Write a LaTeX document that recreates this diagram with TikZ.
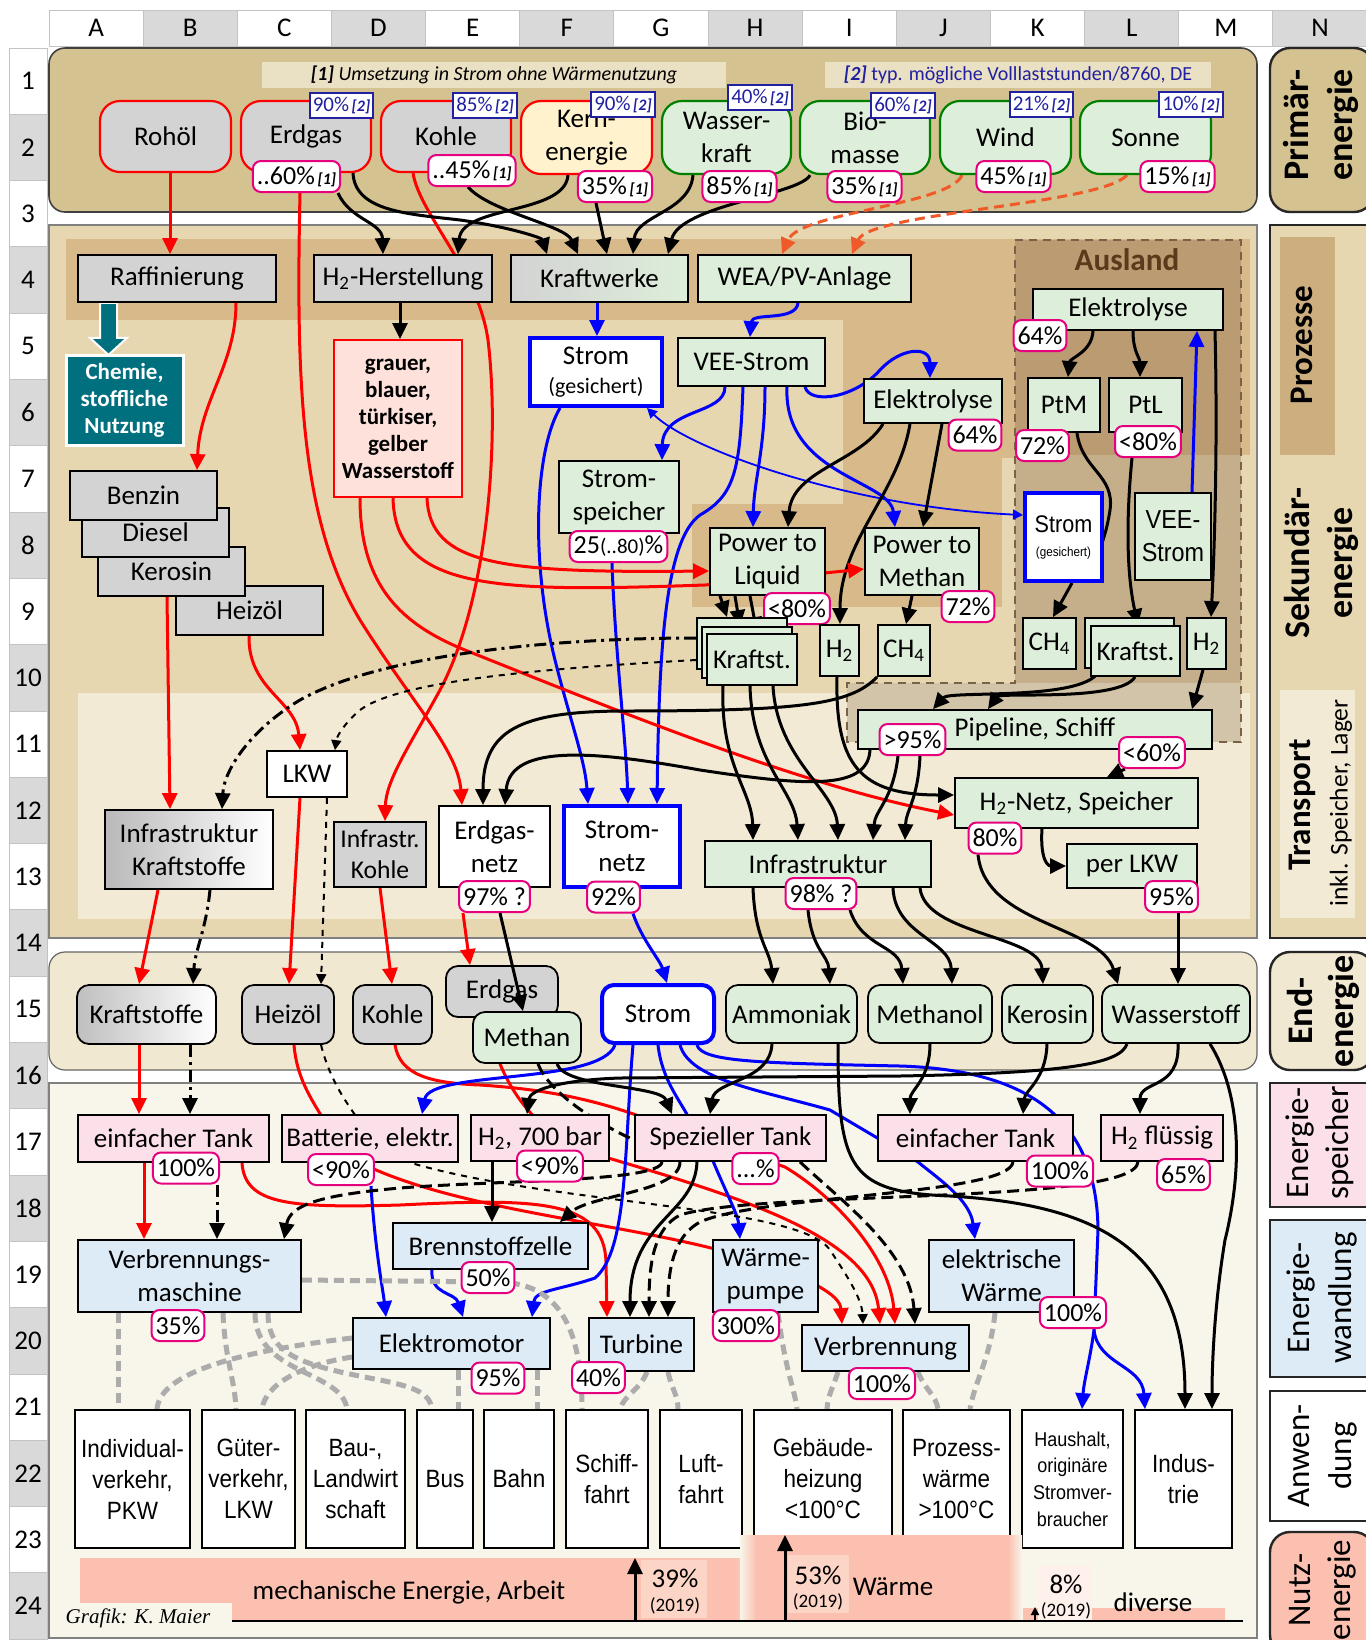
\documentclass[tikz,border=0pt]{standalone}
\usepackage{fontspec}
\setmainfont{Carlito}
\newfontfamily\narrowfont{Liberation Sans}[FakeStretch=0.9]
\newfontfamily\grafikfont{Liberation Serif}
\usetikzlibrary{arrows.meta}

\definecolor{hdr}{RGB}{217,217,217}
\definecolor{hline}{RGB}{195,195,195}
\definecolor{tanA}{RGB}{213,194,145}
\definecolor{tanB}{RGB}{230,215,177}
\definecolor{tanC}{RGB}{215,185,138}
\definecolor{ausA}{RGB}{186,155,114}
\definecolor{ausB}{RGB}{197,175,138}
\definecolor{ausC}{RGB}{209,196,168}
\definecolor{trans}{RGB}{242,234,212}
\definecolor{endp}{RGB}{241,232,210}
\definecolor{lowp}{RGB}{248,245,234}
\definecolor{procl}{RGB}{205,175,127}
\definecolor{note1}{RGB}{234,224,196}
\definecolor{nodegray}{RGB}{211,211,211}
\definecolor{nodegreen}{RGB}{221,238,218}
\definecolor{nodeyellow}{RGB}{255,242,204}
\definecolor{nodepink}{RGB}{251,224,234}
\definecolor{nodeblue}{RGB}{221,235,247}
\definecolor{nodered}{RGB}{253,225,218}
\definecolor{salmon}{RGB}{251,192,175}
\definecolor{salmonl}{RGB}{252,213,199}
\definecolor{tealc}{RGB}{0,112,127}
\definecolor{badgec}{RGB}{230,0,126}
\definecolor{navy}{RGB}{32,32,160}
\definecolor{orng}{RGB}{240,90,40}
\definecolor{grn}{RGB}{0,128,0}
\definecolor{ausl}{RGB}{90,58,26}

\pgfdeclarelayer{bg}
\pgfdeclarelayer{lines}
\pgfsetlayers{bg,lines,main}

\newcommand{\fsz}[2]{\fontsize{#1}{#2}\selectfont}
\newcommand{\qa}{{\fsz{8}{9}\bfseries\itshape\,[1]}}
\newcommand{\qb}{{\fsz{8}{9}\bfseries\itshape\,[2]}}
\newcommand{\Hz}{H\textsubscript{2}}
\newcommand{\CHv}{CH\textsubscript{4}}

\tikzset{
  wh/.style 2 args={minimum width=#1*0.5pt, minimum height=#2*0.5pt},
  box/.style={draw=black, line width=0.9pt, inner sep=1pt, align=center, font=\fsz{13.5}{16.5}},
  prim/.style={box, rounded corners=10pt, line width=1.1pt},
  fossil/.style={prim, draw=red, fill=nodegray},
  renew/.style={prim, draw=grn, fill=nodegreen},
  gbox/.style={box, fill=nodegray},
  ebox/.style={box, fill=nodegreen},
  sbox/.style={box, draw=blue, line width=2pt, fill=white},
  pbox/.style={box, fill=nodepink},
  wbox/.style={box, fill=nodeblue},
  abox/.style={box, fill=white, font=\narrowfont\fsz{12.5}{15.5}},
  fin/.style={box, rounded corners=6pt},
  badge/.style={draw=badgec, line width=1pt, fill=white, rounded corners=4pt, inner xsep=2pt, inner ysep=0.5pt, minimum height=15.5pt, font=\fsz{13}{14}},
  vbadge/.style={draw=navy, line width=1pt, fill=white, inner xsep=1.5pt, inner ysep=0.5pt, minimum height=12.5pt, text=navy, font=\fsz{10.5}{12}},
  lbl/.style={rotate=90, font=\fsz{18}{20}\bfseries},
  lblr/.style={rotate=90, font=\fsz{16.5}{20}},
  arw/.style={-{Triangle[length=8pt,width=7.5pt]}},
  ln/.style={line width=1.5pt},
  rd/.style={ln, red, arw},
  bk/.style={ln, black, arw},
  bl/.style={ln, blue, arw},
  dashdot/.style={dash pattern=on 6pt off 2.5pt on 1.5pt off 2.5pt},
  dsh/.style={dash pattern=on 6pt off 3pt},
  thindash/.style={line width=1pt, dash pattern=on 3pt off 3pt, -{Triangle[length=5pt,width=5pt]}},
  gd/.style={line width=2.5pt, draw=gray!65, dash pattern=on 5pt off 3pt},
}

\begin{document}
\begin{tikzpicture}[x=0.5pt,y=-0.5pt]
\useasboundingbox (0,0) rectangle (1366,1640);

\begin{pgfonlayer}{bg}
\fill[white] (0,0) rectangle (1366,1640);

% sheet headers
\foreach \i/\l in {0/A,1/B,2/C,3/D,4/E,5/F,6/G,7/H,8/I,9/J,10/K,11/L,12/M,13/N}{
  \pgfmathsetmacro\xa{49+94.15*\i}
  \ifodd\i \def\cc{hdr}\else\def\cc{white}\fi
  \draw[fill=\cc, draw=hline, line width=0.5pt] (\xa,10) rectangle ++(94.15,36);
  \node[font=\fsz{13.5}{16}] (col\l) at ({\xa+47.1},28) {\l};
}
\foreach \r in {1,...,24}{
  \pgfmathsetmacro\ya{48+66.3*(\r-1)}
  \ifodd\r \def\cc{white}\else\def\cc{hdr}\fi
  \draw[fill=\cc, draw=hline, line width=0.5pt] (9,\ya) rectangle ++(38,66.3);
  \node[font=\fsz{13.5}{16}] (row\r) at (28,{\ya+33.15}) {\r};
}

% panels
\draw[fill=tanA, draw=black!75, line width=0.8pt, rounded corners=8pt] (49,48) rectangle (1257,212);
\draw[fill=tanB, draw=gray, line width=0.6pt] (49,225) rectangle (1257,938);
\fill[tanC] (66,239) rectangle (1250,320);
\fill[tanC] (1241,320) rectangle (1250,455);
\fill[tanC] (843,320) rectangle (1015,458);
\fill[tanC] (843,458) rectangle (1002,504);
\fill[tanC] (692,504) rectangle (1002,607);
\fill[trans] (78,693) rectangle (1250,919);
\fill[ausA] (1015,240) rectangle (1241,455);
\fill[ausB] (1015,455) rectangle (1241,683);
\fill[ausC] (847,683) rectangle (1241,742);
\draw[draw=ausl!80, line width=1pt, dash pattern=on 4pt off 3pt] (1015,240) -- (1241,240) -- (1241,742) -- (847,742) -- (847,683) -- (1015,683) -- cycle;
\draw[fill=endp, draw=black!60, line width=0.6pt, rounded corners=8pt] (49,952) rectangle (1257,1070);
\draw[fill=lowp, draw=gray, line width=0.6pt] (49,1083) rectangle (1257,1638);

% side labels
\draw[fill=tanA, draw=black!85, line width=1.2pt, rounded corners=10pt] (1270,48) rectangle (1374,212);
\draw[fill=tanB, draw=black!85, line width=1.2pt] (1270,225) rectangle (1374,938);
\fill[procl] (1280,237) rectangle (1335,455);
\fill[trans] (1280,690) rectangle (1355,918);
\draw[fill=endp, draw=black!85, line width=1.2pt, rounded corners=10pt] (1270,952) rectangle (1374,1070);
\draw[fill=nodepink, draw=black!85, line width=1.2pt] (1270,1083) rectangle (1374,1207);
\draw[fill=nodeblue, draw=black!85, line width=1.2pt] (1270,1220) rectangle (1374,1377);
\draw[fill=white, draw=black!85, line width=1.2pt] (1270,1391) rectangle (1374,1521);
\draw[fill=salmon, draw=black!85, line width=1.2pt, rounded corners=10pt] (1270,1532) rectangle (1374,1655);
\end{pgfonlayer}

\node[lbl] (lprim1) at (1296,125) {Primär-};
\node[lbl] (lprim2) at (1343,125) {energie};
\node[lbl, font=\fsz{16.5}{20}\bfseries] (lproz) at (1302,345) {Prozesse};
\node[lbl] (lsek1) at (1297,563) {Sekundär-};
\node[lbl] (lsek2) at (1343,563) {energie};
\node[lbl, font=\fsz{16.5}{20}\bfseries] (ltrans1) at (1302,805) {Transport};
\node[rotate=90, font=\fsz{12.8}{15}] (ltrans2) at (1341,803) {inkl. Speicher, Lager};
\node[lbl] (lend1) at (1300,1011) {End-};
\node[lbl] (lend2) at (1344,1011) {energie};
\node[lblr] (lsp1) at (1300,1143) {Energie-};
\node[lblr] (lsp2) at (1340,1143) {speicher};
\node[lblr] (lwa1) at (1301,1298) {Energie-};
\node[lblr] (lwa2) at (1343,1298) {wandlung};
\node[lblr] (lan1) at (1299,1456) {Anwen-};
\node[lblr] (lan2) at (1343,1456) {dung};
\node[lblr] (lnu1) at (1300,1590) {Nutz-};
\node[lblr] (lnu2) at (1342,1590) {energie};

% primary energy
\node[fill=note1, wh={464}{26}, inner sep=0pt, font=\fsz{10}{12}] (note1) at (494,75) {\textbf{\textit{[1]}} \textit{Umsetzung in Strom ohne Wärmenutzung}};
\node[fill=note1, wh={386}{26}, inner sep=0pt, text=navy, font=\fsz{10}{12}] (note2) at (1018,75) {\textbf{\textit{[2]}} typ. mögliche Volllaststunden/8760, DE};

\node[fossil, wh={131}{71}] (rohoel) at (165.5,136.5) {Rohöl};
\node[fossil, wh={130}{71}] (erdgas) at (306,136.5) {Erdgas};
\node[fossil, wh={130}{71}] (kohle) at (446,136.5) {Kohle};
\node[prim, draw=red, fill=nodeyellow, wh={131}{73}] (kern) at (586.5,137.5) {Kern-\\energie};
\node[renew, wh={129}{73}] (wasser) at (726.5,137.5) {Wasser-\\kraft};
\node[renew, wh={130}{73}] (bio) at (865,137.5) {Bio-\\masse};
\node[renew, wh={131}{73}] (wind) at (1005.5,137.5) {Wind};
\node[renew, wh={131}{73}] (sonne) at (1145.5,137.5) {Sonne};

\node[vbadge] (verdgas) at (341.5,105) {90\%\qb};
\node[vbadge] (vkohle) at (485,105) {85\%\qb};
\node[vbadge] (vkern) at (623,104.5) {90\%\qb};
\node[vbadge] (vwasser) at (760,97.5) {40\%\qb};
\node[vbadge] (vbio) at (903,105) {60\%\qb};
\node[vbadge] (vwind) at (1041.5,104.5) {21\%\qb};
\node[vbadge] (vsonne) at (1191,104.5) {10\%\qb};

\node[badge] (qerdgas) at (296.5,176.5) {..60\%\qa};
\node[badge] (qkohle) at (472,170.5) {..45\%\qa};
\node[badge] (qkern) at (615,186.5) {35\%\qa};
\node[badge] (qwasser) at (739.5,186.5) {85\%\qa};
\node[badge] (qbio) at (864.5,186.5) {35\%\qa};
\node[badge] (qwind) at (1013.5,176.5) {45\%\qa};
\node[badge] (qsonne) at (1177.5,176.5) {15\%\qa};

% processes
\node[gbox, wh={198}{47}] (raff) at (177,278.5) {Raffinierung};
\node[gbox, wh={178}{47}] (h2her) at (403,278.5) {\Hz-Herstellung};
\node[box, left color=nodegray, middle color=nodegray!55!nodegreen, right color=nodegreen, wh={177}{47}] (kraftw) at (599.5,278.5) {Kraftwerke};
\node[ebox, wh={213}{47}] (weapv) at (804.5,278.5) {WEA/PV-Anlage};
\node[box, fill=tealc, draw=white, line width=1.5pt, text=white, font=\fsz{11.5}{13.5}\bfseries, wh={117}{90}] (chemie) at (124.5,400) {Chemie,\\stoffliche\\Nutzung};
\node[box, draw=red, fill=nodered, font=\fsz{11.5}{13.5}\bfseries, wh={128}{157}] (grauer) at (398,418.5) {grauer,\\blauer,\\türkiser,\\gelber\\Wasserstoff};
\node[sbox, wh={132}{68}] (stromg) at (596,372) {Strom\\[-2pt]{\fsz{11}{13}(gesichert)}};
\node[ebox, wh={147}{48}] (vee) at (751.5,362) {VEE-Strom};
\node[ebox, wh={138}{44}] (elyse) at (933,401) {Elektrolyse};
\node[badge] (qelyse) at (975,435) {64\%};
\node[ebox, wh={120}{72}] (speicher) at (619,497) {Strom-\\speicher};
\node[badge] (qspeicher) at (618.5,546.5) {25{\fsz{10.5}{12}(..80)}\%};
\node[ebox, wh={115}{67}] (ptl) at (767.5,561.5) {Power to\\Liquid};
\node[badge] (qptl) at (797,608.5) {<80\%};
\node[ebox, wh={114}{67}] (ptm) at (922,561.5) {Power to\\Methan};
\node[badge] (qptm) at (968,606.5) {72\%};
\node[ebox, wh={90}{51}] (kstc) at (742,643.5) {};
\node[ebox, wh={90}{51}] (kstb) at (747,652.5) {};
\node[ebox, wh={90}{51}] (kst) at (752,659.5) {Kraftst.};
\node[ebox, wh={39}{51}] (h2m) at (839.5,650.5) {\Hz};
\node[ebox, wh={52}{51}] (ch4m) at (904,650.5) {\CHv};

% abroad
\node[font=\fsz{15.6}{18}\bfseries, text=ausl] (ausland) at (1127,260) {Ausland};
\node[ebox, wh={190}{41}] (elyseA) at (1128,309.5) {Elektrolyse};
\node[badge] (qelyseA) at (1040,335.5) {64\%};
\node[ebox, wh={72}{54}] (ptmA) at (1064,405) {PtM};
\node[badge] (qptmA) at (1042.5,445.5) {72\%};
\node[ebox, wh={73}{54}] (ptlA) at (1145.5,405) {PtL};
\node[badge] (qptlA) at (1148,441.5) {<80\%};
\node[sbox, wh={77}{88}, font=\narrowfont\fsz{12}{13}] (stromA) at (1063.5,537) {Strom\\[-1pt]{\fsz{6.5}{8}(gesichert)}};
\node[ebox, wh={76}{87}, font=\narrowfont\fsz{13}{16.5}] (veeA) at (1173,536.5) {VEE-\\Strom};
\node[ebox, wh={53}{51}] (ch4A) at (1049.5,643.5) {\CHv};
\node[ebox, wh={89}{50}] (kstAb) at (1129.5,643) {};
\node[ebox, wh={89}{50}] (kstA) at (1135.5,651) {Kraftst.};
\node[ebox, wh={39}{51}] (h2A) at (1206.5,643.5) {\Hz};

% fossil fuels
\node[gbox, wh={147}{49}] (heizoel) at (249.5,610.5) {Heizöl};
\node[gbox, wh={147}{49}] (kerosin) at (171.5,571.5) {Kerosin};
\node[gbox, wh={147}{49}] (diesel) at (155.5,532.5) {Diesel};
\node[gbox, wh={147}{49}] (benzin) at (143.5,495.5) {Benzin};

% transport
\node[ebox, wh={354}{39}] (pipe) at (1035,729.5) {Pipeline, Schiff};
\node[badge] (qpipe) at (912.5,739.5) {>95\%};
\node[badge] (qh2pipe) at (1152,752.5) {<60\%};
\node[ebox, wh={243}{50}] (h2netz) at (1076.5,803) {\Hz-Netz, Speicher};
\node[badge] (qh2netz) at (995,838) {80\%};
\node[ebox, wh={130}{44}] (perlkw) at (1132,866) {per LKW};
\node[badge] (qperlkw) at (1171.5,896.5) {95\%};
\node[ebox, wh={226}{46}] (infra) at (818,864) {Infrastruktur};
\node[badge] (qinfra) at (821,893.5) {98\% ?};
\node[sbox, wh={116}{81}] (stromnetz) at (622,846.5) {Strom-\\netz};
\node[badge] (qstromnetz) at (613.5,897) {92\%};
\node[box, fill=white, wh={111}{81}] (gasnetz) at (494.5,846.5) {Erdgas-\\netz};
\node[badge] (qgasnetz) at (494.5,896.5) {97\% ?};
\node[gbox, wh={92}{65}, font=\fsz{12.8}{15.5}] (infrakohle) at (380,854.5) {Infrastr.\\Kohle};
\node[box, left color=gray!55, right color=white, wh={168}{79}] (infrakst) at (189,849.5) {Infrastruktur\\Kraftstoffe};
\node[box, fill=white, wh={80}{46}] (lkw) at (307,774) {LKW};

% final energy
\node[fin, left color=gray!50, right color=white, wh={139}{59}] (kstE) at (146.5,1014.5) {Kraftstoffe};
\node[fin, fill=nodegray, wh={92}{59}] (heizE) at (288,1014.5) {Heizöl};
\node[fin, fill=nodegray, wh={79}{59}] (kohleE) at (392.5,1014.5) {Kohle};
\node[fin, fill=nodegray, wh={112}{51}] (erdgasE) at (502,991.5) {Erdgas};
\node[fin, fill=nodegreen, wh={108}{51}] (methanE) at (527,1037.5) {Methan};
\draw[bk] (qgasnetz.south -| 500,0) -- (methanE.north -| 523,0);
\node[fin, fill=white, draw=blue, line width=2pt, wh={112}{58}] (stromE) at (658,1014) {Strom};
\node[fin, fill=nodegreen, wh={131}{58}] (ammoE) at (791.5,1014) {Ammoniak};
\node[fin, fill=nodegreen, wh={124}{58}] (methanolE) at (930,1014) {Methanol};
\node[fin, fill=nodegreen, wh={91}{58}] (kerosinE) at (1047.5,1014) {Kerosin};
\node[fin, fill=nodegreen, wh={148}{58}] (h2E) at (1176,1014) {Wasserstoff};

% storage
\node[pbox, wh={191}{47}] (tankL) at (173.5,1138.5) {einfacher Tank};
\node[badge] (qtankL) at (186,1168) {100\%};
\node[pbox, wh={176}{47}] (batt) at (370,1138.5) {Batterie, elektr.};
\node[badge] (qbatt) at (341,1169.5) {<90\%};
\node[pbox, wh={138}{46}] (h2bar) at (540,1138) {\Hz, 700 bar};
\node[badge] (qh2bar) at (550,1166) {<90\%};
\node[pbox, wh={191}{46}] (spez) at (730.5,1138) {Spezieller Tank};
\node[badge] (qspez) at (755.5,1168.5) {...\%};
\node[pbox, wh={195}{46}] (tankR) at (975.5,1138) {einfacher Tank};
\node[badge] (qtankR) at (1060,1171) {100\%};
\node[pbox, wh={122}{46}] (h2fl) at (1162,1138) {\Hz\ flüssig};
\node[badge] (qh2fl) at (1183.5,1174.5) {65\%};

% conversion
\node[wbox, wh={223}{72}] (vm) at (189.5,1276) {Verbrennungs-\\maschine};
\node[badge] (qvm) at (178,1325.5) {35\%};
\node[wbox, wh={195}{46}] (bz) at (490.5,1246) {Brennstoffzelle};
\node[badge] (qbz) at (488,1277.5) {50\%};
\node[wbox, wh={197}{51}] (em) at (451.5,1343.5) {Elektromotor};
\node[badge] (qem) at (498,1378) {95\%};
\node[wbox, wh={105}{53}] (turb) at (641.5,1344.5) {Turbine};
\node[badge] (qturb) at (598.5,1377.5) {40\%};
\node[wbox, wh={105}{72}] (wp) at (765.5,1276) {Wärme-\\pumpe};
\node[badge] (qwp) at (746,1325.5) {300\%};
\node[wbox, wh={167}{46}] (verb) at (885.5,1348) {Verbrennung};
\node[badge] (qverb) at (882,1383.5) {100\%};
\node[wbox, wh={145}{72}] (ew) at (1001.5,1276) {elektrische\\Wärme};
\node[badge] (qew) at (1073,1312.5) {100\%};

% application
\node[abox, wh={115}{138}] (a1) at (132.5,1479) {Individual-\\verkehr,\\PKW};
\node[abox, wh={93}{138}] (a2) at (248.5,1479) {Güter-\\verkehr,\\LKW};
\node[abox, wh={99}{138}] (a3) at (355.5,1479) {Bau-,\\Landwirt\\schaft};
\node[abox, wh={56}{138}] (a4) at (445,1479) {Bus};
\node[abox, wh={70}{138}] (a5) at (519,1479) {Bahn};
\node[abox, wh={82}{138}] (a6) at (607,1479) {Schiff-\\fahrt};
\node[abox, wh={82}{138}] (a7) at (701,1479) {Luft-\\fahrt};
\node[abox, wh={138}{138}] (a8) at (823,1479) {Gebäude-\\heizung\\<100°C};
\node[abox, wh={107}{138}] (a9) at (956.5,1479) {Prozess-\\wärme\\>100°C};
\node[abox, wh={101}{138}, font=\narrowfont\fsz{10}{13.3}] (a10) at (1072.5,1479) {Haushalt,\\originäre\\Stromver-\\braucher};
\node[abox, wh={97}{138}] (a11) at (1183.5,1479) {Indus-\\trie};

% useful energy
\fill[salmon] (80,1558) rectangle (735,1603);
\fill[salmon] (232,1603) rectangle (735,1620);
\shade[left color=salmon, right color=lowp] (735,1558) rectangle (765,1620);
\fill[salmonl] (641,1560) rectangle (707,1618);
\shade[left color=lowp, right color=salmon] (740,1535) rectangle (757,1620);
\fill[salmon] (755,1535) rectangle (1010,1620);
\shade[left color=salmon, right color=lowp] (1008,1535) rectangle (1022,1620);
\fill[salmonl] (788,1555) rectangle (849,1613);
\fill[salmon] (1023,1608) rectangle (1225,1620);
\fill[salmonl!35!white] (1038,1565) rectangle (1092,1620);
\draw[line width=1pt] (232,1621) -- (1243,1621);
\draw[bk] (635,1621) -- (635,1558);
\draw[bk] (785,1621) -- (785,1535);
\draw[line width=1pt, -{Triangle[length=4pt,width=4pt]}] (1035,1621) -- (1035,1607);
\node[font=\fsz{13.5}{16}] (mech) at (409,1592) {mechanische Energie, Arbeit};
\node[font=\fsz{13.5}{16}] (p39) at (675,1578) {39\%};
\node[font=\fsz{9.5}{11}] (y39) at (675,1606) {(2019)};
\node[font=\fsz{13.5}{16}] (p53) at (818,1575) {53\%};
\node[font=\fsz{9.5}{11}] (y53) at (818,1602) {(2019)};
\node[font=\fsz{13.5}{16}] (waerme) at (893,1587) {Wärme};
\node[font=\fsz{13.5}{16}] (p8) at (1066,1584) {8\%};
\node[font=\fsz{9.5}{11}] (y8) at (1066,1611) {(2019)};
\node[font=\fsz{13.5}{16}] (diverse) at (1153,1602) {diverse};
\node[font=\grafikfont\itshape\fsz{10.5}{12}] (grafik) at (138,1618) {Grafik: K. Maier};

\begin{pgfonlayer}{lines}
% primary energy
\draw[rd] (rohoel.south -| 170,0) -- (raff.north -| 170,0);
\draw[rd] (qerdgas.south -| 300,0) .. controls (296,380) and (300,520) .. (360,620) .. controls (410,700) and (458,750) .. (gasnetz.north -| 462,0);
\draw[rd] (kohle.south -| 413,0) .. controls (420,215) and (478,270) .. (488,340) .. controls (500,440) and (488,600) .. (440,690) .. controls (410,745) and (386,780) .. (infrakohle.north -| 385,0);
\draw[bk] (qerdgas.south -| 338,0) .. controls (350,220) and (382,222) .. (h2her.north -| 383,0);
\draw[bk] (erdgas.south -| 353,0) .. controls (355,212) and (410,214) .. (460,220) .. controls (510,227) and (542,238) .. (kraftw.north -| 547,0);
\draw[bk] (qkohle.south -| 468,0) .. controls (490,212) and (565,225) .. (kraftw.north -| 578,0);
\draw[bk] (kern.south -| 568,0) .. controls (565,215) and (462,205) .. (h2her.north -| 458,0);
\draw[bk] (qkern.south -| 596,0) -- (kraftw.north -| 607,0);
\draw[bk] (wasser.south -| 693,0) .. controls (690,212) and (636,215) .. (kraftw.north -| 633,0);
\draw[bk] (bio.south -| 810,0) .. controls (800,195) and (680,205) .. (kraftw.north -| 668,0);
\draw[ln, orng, dash pattern=on 5pt off 3pt, arw] (wind.south -| 962,0) .. controls (950,205) and (800,212) .. (weapv.north -| 782,0);
\draw[ln, orng, dash pattern=on 5pt off 3pt, arw] (sonne.south -| 1127,0) .. controls (1100,205) and (870,212) .. (weapv.north -| 852,0);

% processes
\draw[fill=tealc, draw=white, line width=1pt] (raff.south -| 100,0) -- ++(17,0) -- ++(0,35) -- ++(10,0) -- ++(-18.5,17) -- ++(-18.5,-17) -- ++(10,0) -- cycle;
\draw[rd] (raff.south -| 236,0) .. controls (236,365) and (200,400) .. (benzin.north -| 197,0);
\draw[bk] (h2her.south -| 400,0) -- (grauer.north -| 400,0);
\draw[bl] (kraftw.south -| 597,0) -- (stromg.north -| 597,0);
\draw[bl] (weapv.south -| 798,0) .. controls (796,322) and (752,312) .. (vee.north -| 750,0);
\draw[bl] (vee.south -| 805,0) .. controls (810,405) and (855,398) .. (880,370) .. controls (900,348) and (930,345) .. (elyse.north -| 930,0);
\draw[bl] (vee.south -| 725,0) .. controls (725,415) and (663,408) .. (speicher.north -| 662,0);
\draw[bl] (vee.south -| 743,0) .. controls (740,470) and (735,495) .. (700,515) .. controls (665,540) and (659,650) .. (stromnetz.north -| 657,0);
\draw[bl] (vee.south -| 765,0) .. controls (765,450) and (754,480) .. (ptl.north -| 753,0);
\draw[bl] (vee.south -| 787,0) .. controls (783,475) and (890,480) .. (ptm.north -| 895,0);
\draw[bl] (stromg.south -| 560,0) .. controls (535,450) and (530,560) .. (555,660) .. controls (570,720) and (585,760) .. (stromnetz.north -| 588,0);
\draw[bl] (qspeicher.south -| 612,0) .. controls (615,650) and (626,740) .. (stromnetz.north -| 628,0);
\draw[blue, line width=0.9pt, {Triangle[length=5pt,width=5pt]}-{Triangle[length=5pt,width=5pt]}] (stromg.south -| 647,0) .. controls (690,450) and (850,507) .. (stromA.west |- 0,515);
\draw[bk] (elyse.south -| 883,0) .. controls (860,462) and (792,470) .. (ptl.north -| 788,0);
\draw[bk] (elyse.south -| 910,0) .. controls (898,495) and (840,540) .. (h2m.north -| 840,0);
\draw[bk] (elyse.south -| 942,0) -- (ptm.north -| 923,0);
\draw[bk] (ptm.south -| 912,0) -- (ch4m.north -| 906,0);
\draw[bk] (ptl.south -| 720,0) -- (kstc.north -| 727,0);
\draw[bk] (ptl.south -| 735,0) -- (kstb.north -| 740,0);
\draw[bk] (ptl.south -| 750,0) -- (kst.north -| 757,0);
\draw[rd] (grauer.south -| 427,0) .. controls (430,565) and (500,573) .. (ptl.west |- 0,571);
\draw[rd] (grauer.south -| 393,0) .. controls (395,592) and (500,592) .. (705,585) -- (ptm.west |- 0,569);
\draw[rd] (grauer.south -| 360,0) .. controls (360,585) and (400,625) .. (470,652) .. controls (620,712) and (800,785) .. (h2netz.west |- 0,815);

% fossil fuels
\draw[rd] (kerosin.south -| 167,0) -- (infrakst.north -| 170,0);
\draw[rd] (heizoel.south -| 249,0) .. controls (248,690) and (296,700) .. (lkw.north -| 300,0);
\draw[ln, dashdot, arw] (kstc.west |- 0,638) .. controls (550,638) and (380,655) .. (300,700) .. controls (250,730) and (224,770) .. (infrakst.north -| 222,0);
\draw[thindash] (kstc.west |- 0,660) .. controls (550,668) and (400,680) .. (360,710) .. controls (346,722) and (337,735) .. (lkw.north -| 335,0);
\draw[rd] (lkw.south -| 300,0) -- (heizE.north -| 289,0);
\draw[thindash] (lkw.south -| 327,0) -- (heizE.north -| 321,0);
\draw[rd] (infrakst.south -| 158,0) -- (kstE.north -| 139,0);
\draw[ln, dashdot, arw] (infrakst.south -| 210,0) .. controls (206,930) and (195,950) .. (kstE.north -| 193,0);
\draw[rd] (infrakohle.south -| 380,0) -- (kohleE.north -| 392,0);
\draw[rd] (qgasnetz.south -| 463,0) -- (erdgasE.north -| 470,0);
\draw[bl] (qstromnetz.south -| 633,0) .. controls (642,940) and (660,960) .. (stromE.north -| 667,0);

% transport
\draw[bk] (ch4m.south west) .. controls (850,705) and (800,711) .. (620,711) .. controls (520,712) and (483,730) .. (gasnetz.north -| 483,0);
\draw[bk] (pipe.south -| 870,0) .. controls (868,792) and (800,785) .. (700,770) .. controls (600,752) and (510,742) .. (gasnetz.north -| 505,0);
\draw[bk] (kst.south -| 723,0) .. controls (720,765) and (752,790) .. (infra.north -| 753,0);
\draw[bk] (kst.south -| 750,0) .. controls (752,765) and (795,790) .. (infra.north -| 798,0);
\draw[bk] (kst.south -| 773,0) .. controls (777,760) and (836,790) .. (infra.north -| 838,0);
\draw[bk] (h2m.south -| 837,0) .. controls (835,765) and (860,795) .. (h2netz.west |- 0,795);
\draw[bk] (qpipe.south -| 898,0) .. controls (893,800) and (875,810) .. (infra.north -| 873,0);
\draw[bk] (qpipe.south -| 920,0) .. controls (918,800) and (906,810) .. (infra.north -| 905,0);
\draw[bk] (qh2pipe.south -| 1125,0) -- (h2netz.north -| 1107,0);
\draw[bk] (kstAb.south -| 1100,0) .. controls (1090,702) and (950,690) .. (pipe.north -| 933,0);
\draw[bk] (kstA.south -| 1135,0) .. controls (1120,702) and (1000,692) .. (pipe.north -| 988,0);
\draw[bk] (h2A.south -| 1203,0) -- (pipe.north -| 1192,0);
\draw[bk] (stromA.south -| 1072,0) -- (ch4A.north -| 1053,0);
\draw[ln] (ptmA.south -| 1077,0) .. controls (1082,470) and (1115,475) .. (1110,510) .. controls (1107,530) and (1102,545) .. (1095,560);
\draw[bk] (qptlA.south -| 1132,0) .. controls (1125,530) and (1128,580) .. (kstA.north -| 1138,0);
\draw[bk] (elyseA.south -| 1093,0) .. controls (1092,352) and (1070,358) .. (ptmA.north -| 1068,0);
\draw[bk] (elyseA.south -| 1133,0) .. controls (1133,352) and (1140,358) .. (ptlA.north -| 1140,0);
\draw[bk] (elyseA.south -| 1215,0) .. controls (1218,450) and (1214,560) .. (h2A.north -| 1211,0);
\draw[bl] (veeA.north -| 1192,0) -- (elyseA.south -| 1197,0);
\draw[bk] (h2netz.south -| 1042,0) .. controls (1040,860) and (1048,866) .. (perlkw.west);
\draw[bk] (qh2netz.south -| 978,0) .. controls (985,925) and (1100,925) .. (h2E.north -| 1118,0);
\draw[bk] (qperlkw.south -| 1178,0) -- (h2E.north -| 1178,0);
\draw[bk] (infra.south -| 753,0) .. controls (755,940) and (770,950) .. (ammoE.north -| 773,0);
\draw[bk] (qinfra.south -| 808,0) .. controls (812,950) and (828,955) .. (ammoE.north -| 830,0);
\draw[bk] (qinfra.south -| 850,0) .. controls (862,948) and (900,945) .. (methanolE.north -| 903,0);
\draw[bk] (infra.south -| 893,0) .. controls (895,935) and (950,940) .. (methanolE.north -| 952,0);
\draw[bk] (infra.south -| 920,0) .. controls (925,935) and (1040,935) .. (kerosinE.north -| 1043,0);

% final energy to storage
\draw[rd] (kstE.south -| 139,0) -- (tankL.north -| 139,0);
\draw[ln, dashdot, arw] (kstE.south -| 190,0) -- (tankL.north -| 190,0);
\draw[rd] (heizE.south -| 294,0) .. controls (297,1080) and (312,1100) .. (330,1130) -- (qbatt.east) .. controls (480,1215) and (650,1225) .. (760,1262) .. controls (812,1280) and (840,1295) .. (verb.north -| 842,0);
\draw[rd] (tankL.south -| 242,0) .. controls (245,1205) and (290,1208) .. (400,1205) .. controls (540,1198) and (604,1200) .. (606,1262) -- (turb.north -| 607,0);
\draw[rd] (methanE.south -| 500,0) .. controls (515,1100) and (540,1130) .. (580,1150) -- (615,1160) .. controls (750,1200) and (872,1240) .. (verb.north -| 880,0);
\draw[rd] (kohleE.south -| 395,0) .. controls (400,1075) and (430,1083) .. (480,1085) .. controls (560,1090) and (610,1105) .. (650,1120) -- (785,1167) .. controls (840,1200) and (890,1260) .. (verb.north -| 895,0);
\draw[bl] (stromE.south -| 615,0) .. controls (600,1085) and (430,1070) .. (batt.north -| 422,0);
\draw[bl] (stromE.south -| 633,0) .. controls (624,1150) and (628,1250) .. (595,1278) .. controls (560,1290) and (535,1290) .. (em.north -| 532,0);
\draw[bl] (stromE.south -| 658,0) .. controls (662,1080) and (680,1100) .. (690,1120) -- (713,1161) .. controls (725,1190) and (738,1215) .. (wp.north -| 740,0);
\draw[bl] (stromE.south -| 680,0) .. controls (690,1080) and (760,1090) .. (830,1110) -- (918,1162) .. controls (940,1180) and (970,1200) .. (ew.north -| 975,0);
\coordinate (split) at (1094,1330);
\draw[bl] (stromE.south -| 697,0) .. controls (702,1062) and (760,1063) .. (900,1066) .. controls (1030,1070) and (1097,1120) .. (1098,1230) -- (split) .. controls (1090,1360) and (1084,1380) .. (a10.north -| 1082,0);
\draw[bl] (split) .. controls (1098,1365) and (1142,1365) .. (a11.north -| 1145,0);
\draw[bl] (qbatt.south -| 371,0) .. controls (375,1250) and (383,1290) .. (em.north -| 386,0);
\draw[bl] (bz.south -| 432,0) .. controls (430,1295) and (455,1292) .. (em.north -| 463,0);
\draw[bk] (methanE.south -| 557,0) .. controls (565,1088) and (660,1085) .. (spez.north -| 672,0);
\draw[ln, dsh] (methanE.south -| 538,0) .. controls (548,1090) and (590,1120) .. (spez.west |- 0,1140);
\draw[bk] (ammoE.south -| 772,0) .. controls (770,1082) and (715,1080) .. (spez.north -| 710,0);
\draw[bk] (h2E.south -| 1127,0) .. controls (1120,1065) and (1060,1073) .. (900,1076) -- (620,1078) .. controls (560,1080) and (530,1090) .. (h2bar.north -| 527,0);
\draw[bk] (ammoE.south -| 838,0) .. controls (838,1170) and (850,1192) .. (950,1196) .. controls (1100,1205) and (1185,1250) .. (a11.north -| 1185,0);
\draw[bk] (h2E.south -| 1210,0) .. controls (1245,1100) and (1240,1180) .. (1225,1240) .. controls (1215,1300) and (1212,1360) .. (a11.north -| 1212,0);
\draw[bk] (methanolE.south -| 930,0) .. controls (930,1080) and (910,1090) .. (tankR.north -| 910,0);
\draw[bk] (kerosinE.south -| 1047,0) .. controls (1046,1080) and (1025,1090) .. (tankR.north -| 1023,0);
\draw[bk] (h2E.south -| 1178,0) .. controls (1180,1090) and (1140,1080) .. (h2fl.north -| 1140,0);
\draw[bk] (h2bar.south -| 492,0) -- (bz.north -| 492,0);

% storage to conversion
\draw[rd] (tankL.south -| 144,0) -- (vm.north -| 144,0);
\draw[ln, dashdot, arw] (qtankL.south -| 217,0) -- (vm.north -| 217,0);
\draw[ln, dsh, arw] (spez.south -| 662,0) .. controls (660,1182) and (500,1180) .. (400,1188) .. controls (320,1195) and (290,1205) .. (vm.north -| 284,0);
\draw[ln, dsh, arw] (spez.south -| 680,0) .. controls (680,1192) and (590,1195) .. (bz.north -| 560,0);
\draw[bk] (spez.south -| 697,0) .. controls (695,1215) and (630,1220) .. (turb.north -| 630,0);
\draw[ln, dsh, arw] (tankR.south -| 1013,0) .. controls (1010,1195) and (760,1195) .. (700,1222) .. controls (678,1234) and (668,1260) .. (turb.north -| 668,0);
\draw[ln, dsh, arw] (h2fl.south -| 1138,0) .. controls (1135,1205) and (760,1190) .. (680,1215) .. controls (655,1228) and (649,1260) .. (turb.north -| 649,0);
\draw[ln, dsh, arw] (spez.south -| 800,0) .. controls (840,1200) and (910,1250) .. (verb.north -| 915,0);
\draw[thindash] (heizE.south -| 321,0) .. controls (330,1080) and (345,1100) .. (355,1115) -- (408,1162) .. controls (550,1205) and (800,1205) .. (830,1250) .. controls (850,1280) and (862,1300) .. (verb.north -| 863,0);

% conversion to application
\draw[gd] (vm.south -| 118,0) -- (a1.north -| 118,0);
\draw[gd] (vm.south -| 223,0) .. controls (225,1360) and (235,1380) .. (a2.north -| 236,0);
\draw[gd] (vm.south -| 255,0) .. controls (255,1375) and (342,1370) .. (a3.north -| 347,0);
\draw[gd] (vm.south -| 268,0) .. controls (268,1355) and (300,1365) .. (380,1380) .. controls (420,1388) and (430,1395) .. (a4.north -| 432,0);
\draw[gd] (vm.east |- 0,1280) -- (500,1282) .. controls (560,1284) and (582,1330) .. (a6.north -| 582,0);
\draw[gd] (em.west |- 0,1338) .. controls (250,1350) and (160,1370) .. (a1.north -| 157,0);
\draw[gd] (em.west |- 0,1357) .. controls (300,1365) and (265,1385) .. (a2.north -| 262,0);
\draw[gd] (em.south -| 458,0) -- (a4.north -| 458,0);
\draw[gd] (em.south -| 537,0) -- (a5.north -| 537,0);
\draw[gd] (turb.south -| 647,0) .. controls (640,1390) and (624,1395) .. (a6.north -| 620,0);
\draw[gd] (turb.south -| 668,0) .. controls (672,1390) and (678,1395) .. (a7.north -| 678,0);
\draw[gd] (wp.south -| 778,0) .. controls (785,1370) and (795,1390) .. (a8.north -| 797,0);
\draw[gd] (verb.south -| 838,0) .. controls (832,1390) and (828,1395) .. (a8.north -| 827,0);
\draw[gd] (verb.south -| 918,0) .. controls (925,1390) and (936,1395) .. (a9.north -| 938,0);
\draw[gd] (ew.south -| 995,0) .. controls (990,1360) and (975,1380) .. (a9.north -| 970,0);
\end{pgfonlayer}

\end{tikzpicture}
\end{document}
